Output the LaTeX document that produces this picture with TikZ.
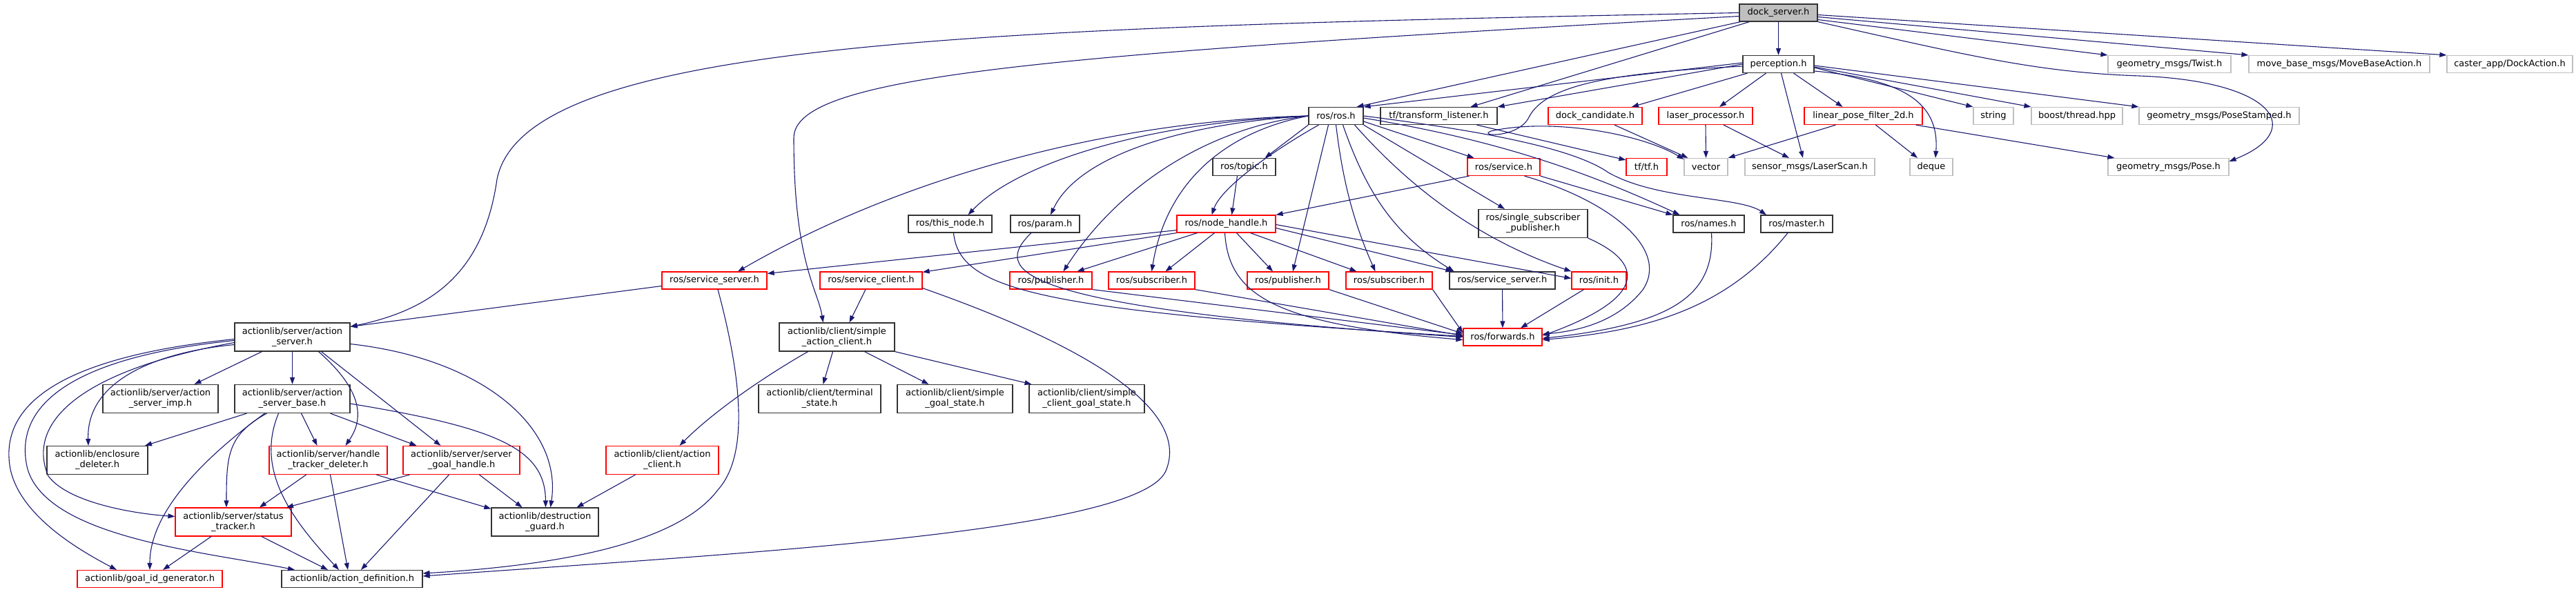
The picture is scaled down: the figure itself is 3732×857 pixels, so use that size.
\documentclass[tikz,border=0pt]{standalone}
\usepackage{fontspec}
\setmainfont{DejaVu Sans}
\usetikzlibrary{arrows.meta}
\definecolor{edgec}{HTML}{191970}
\definecolor{redc}{HTML}{FF0000}
\definecolor{grayc}{HTML}{BFBFBF}
\newcommand\nodefont{\fontsize{13}{15}\selectfont}
\begin{document}
\begin{tikzpicture}[x=1pt,y=-1pt,
 file/.style={draw=black!80, line width=1.2pt, fill=white, minimum height=25pt, inner sep=0pt, align=center, font=\nodefont, text=black},
 two/.style={minimum height=41pt},
 redf/.style={file, draw=redc},
 grayf/.style={file, draw=grayc},
 rootf/.style={file, fill=grayc},
 dep/.style={draw=edgec, line width=1.1pt, -{Triangle[length=10pt,width=7pt]}},
]
\useasboundingbox (0,0) rectangle (3732,857);
% row 0,1
\node[rootf, minimum width=113pt] (dock) at (2576.5,18.5) {dock\_server.h};
\node[file, minimum width=103pt] (perc) at (2576.5,93) {perception.h};
\node[grayf, minimum width=178pt] (twist) at (3143,93) {geometry\_msgs/Twist.h};
\node[grayf, minimum width=262pt] (mba) at (3389,93) {move\_base\_msgs/MoveBaseAction.h};
\node[grayf, minimum width=182pt] (caster) at (3636,93) {caster\_app/DockAction.h};
% row 2
\node[file, minimum width=79pt] (ros) at (1935.5,168) {ros/ros.h};
\node[file, minimum width=169pt] (tl) at (2084.5,168) {tf/transform\_listener.h};
\node[redf, minimum width=136pt] (dc) at (2311,168) {dock\_candidate.h};
\node[redf, minimum width=136pt] (lp) at (2471,168) {laser\_processor.h};
\node[redf, minimum width=171pt] (lpf) at (2699.5,168) {linear\_pose\_filter\_2d.h};
\node[grayf, minimum width=58pt] (str) at (2888,168) {string};
\node[grayf, minimum width=132pt] (boost) at (3009,168) {boost/thread.hpp};
\node[grayf, minimum width=232pt] (ps) at (3215,168) {geometry\_msgs/PoseStamped.h};
% row 3
\node[file, minimum width=91pt] (topic) at (1802.5,242) {ros/topic.h};
\node[redf, minimum width=105pt] (svc) at (2178.5,242) {ros/service.h};
\node[redf, minimum width=59pt] (tf) at (2385.5,242) {tf/tf.h};
\node[grayf, minimum width=63pt] (vec) at (2471.5,242) {vector};
\node[grayf, minimum width=188pt] (ls) at (2622,242) {sensor\_msgs/LaserScan.h};
\node[grayf, minimum width=62pt] (deq) at (2798,242) {deque};
\node[grayf, minimum width=175pt] (pose) at (3141.5,242) {geometry\_msgs/Pose.h};
% row 4
\node[file, minimum width=121pt] (thisn) at (1376.5,324.5) {ros/this\_node.h};
\node[file, minimum width=100pt] (param) at (1514,324.5) {ros/param.h};
\node[redf, minimum width=143pt] (nh) at (1776.5,324.5) {ros/node\_handle.h};
\node[file, two, minimum width=158pt] (ssp) at (2221,324) {ros/single\_subscriber\\\_publisher.h};
\node[file, minimum width=103pt] (names) at (2475.5,324.5) {ros/names.h};
\node[file, minimum width=104pt] (master) at (2603,324.5) {ros/master.h};
% row 5
\node[redf, minimum width=152pt] (ssr) at (1035,406.5) {ros/service\_server.h};
\node[redf, minimum width=148pt] (scl) at (1262,406.5) {ros/service\_client.h};
\node[redf, minimum width=119pt] (pub1) at (1522.5,406.5) {ros/publisher.h};
\node[redf, minimum width=125pt] (sub1) at (1668.5,406.5) {ros/subscriber.h};
\node[redf, minimum width=118pt] (pub2) at (1866,406.5) {ros/publisher.h};
\node[redf, minimum width=125pt] (sub2) at (2012.5,406.5) {ros/subscriber.h};
\node[file, minimum width=153pt] (ssb) at (2176.5,406.5) {ros/service\_server.h};
\node[redf, minimum width=79pt] (init) at (2316.5,406.5) {ros/init.h};
% row 6
\node[file, two, minimum width=167pt] (as) at (423.5,488.5) {actionlib/server/action\\\_server.h};
\node[file, two, minimum width=167pt] (sac) at (1212.5,488.5) {actionlib/client/simple\\\_action\_client.h};
\node[redf, minimum width=114pt] (fwd) at (2177,488.5) {ros/forwards.h};
% row 7
\node[file, two, minimum width=167pt] (imp) at (232.5,578) {actionlib/server/action\\\_server\_imp.h};
\node[file, two, minimum width=167pt] (base) at (423.5,578) {actionlib/server/action\\\_server\_base.h};
\node[file, two, minimum width=177pt] (term) at (1187.5,578) {actionlib/client/terminal\\\_state.h};
\node[file, two, minimum width=167pt] (sgs) at (1383.5,578) {actionlib/client/simple\\\_goal\_state.h};
\node[file, two, minimum width=167pt] (scgs) at (1574.5,578) {actionlib/client/simple\\\_client\_goal\_state.h};
% row 8
\node[file, two, minimum width=146pt] (encl) at (141,667) {actionlib/enclosure\\\_deleter.h};
\node[redf, two, minimum width=171pt] (htd) at (475.5,667) {actionlib/server/handle\\\_tracker\_deleter.h};
\node[redf, two, minimum width=169pt] (sgh) at (668.5,667) {actionlib/server/server\\\_goal\_handle.h};
\node[redf, two, minimum width=163pt] (acl) at (959.5,667) {actionlib/client/action\\\_client.h};
% row 9,10
\node[redf, two, minimum width=168pt] (st) at (338,756.5) {actionlib/server/status\\\_tracker.h};
\node[file, two, minimum width=155pt] (dg) at (789.5,756.5) {actionlib/destruction\\\_guard.h};
\node[redf, minimum width=210pt] (gid) at (217,839) {actionlib/goal\_id\_generator.h};
\node[file, minimum width=204pt] (ad) at (510,839) {actionlib/action\_definition.h};

% ---- dock_server.h
\draw[dep] (dock) -- (perc);
\draw[dep] ([xshift=-55pt]dock.south) -- ([xshift=30pt]ros.north);
\draw[dep] ([xshift=-42pt]dock.south) -- ([xshift=46pt]tl.north);
\draw[dep] (dock.west) .. controls (1400,40) and (760,60) .. (720,260) .. controls (700,400) and (620,450) .. ([yshift=-6pt]as.north east);
\draw[dep] ([yshift=-5pt]dock.west) .. controls (1500,80) and (1150,110) .. (1150,200) .. controls (1150,380) and (1185,420) .. ([xshift=-20pt]sac.north);
\draw[dep] ([yshift=-3pt]dock.east) -- (caster.north west);
\draw[dep] ([yshift=-6pt]dock.east) -- (mba.north west);
\draw[dep] ([yshift=-10pt]dock.east) -- (twist.north west);
\draw[dep] (dock.south east) .. controls (2850,80) and (2950,105) .. (3100,110) .. controls (3300,118) and (3340,190) .. ([yshift=-5pt]pose.north east);
% ---- perception.h
\draw[dep] ([yshift=2pt]perc.west) -- (ros.north east);
\draw[dep] (perc.west) -- (tl.north east);
\draw[dep] ([xshift=-45pt]perc.south) -- ([xshift=53pt]dc.north);
\draw[dep] ([xshift=-18pt]perc.south) -- ([xshift=20pt]lp.north);
\draw[dep] ([xshift=4pt]perc.south) -- ([xshift=-10pt]ls.north);
\draw[dep] ([xshift=22pt]perc.south) -- ([xshift=-30pt]lpf.north);
\draw[dep] ([yshift=-10pt]perc.east) .. controls (2760,115) and (2810,150) .. ([xshift=6pt]deq.north);
\draw[dep] ([yshift=-5pt]perc.east) -- (str.north west);
\draw[dep] ([yshift=-4pt]perc.east) -- (boost.north west);
\draw[dep] ([yshift=-2pt]perc.east) -- (ps.north west);
\draw[dep] ([yshift=-3pt]perc.west) .. controls (2350,105) and (2240,120) .. (2215,170) .. controls (2200,200) and (2140,198) .. (2160,190) .. controls (2250,170) and (2380,195) .. ([yshift=-2pt]vec.north west);
% ---- second level
\draw[dep] ([xshift=55pt]tl.south) -- ([yshift=-3pt]tf.north west);
\draw[dep] ([xshift=28pt]dc.south) -- ([xshift=6pt]vec.north west);
\draw[dep] (lp.south) -- (vec.north);
\draw[dep] ([xshift=26pt]lp.south) -- ([xshift=-30pt]ls.north);
\draw[dep] ([xshift=-40pt]lpf.south) -- (vec.north east);
\draw[dep] ([xshift=18pt]lpf.south) -- ([xshift=-20pt]deq.north);
\draw[dep] ([xshift=-10pt]lpf.south east) -- ([xshift=10pt]pose.north west);
% ---- ros/ros.h
\draw[dep] (ros.south west) -- ([xshift=30pt]topic.north);
\draw[dep] ([xshift=-10pt]topic.south) -- ([xshift=8pt]nh.north);
\draw[dep] ([xshift=-25pt]ros.south) .. controls (1850,215) and (1770,270) .. ([xshift=-21pt]nh.north);
\draw[dep] (ros.west) .. controls (1600,175) and (1300,260) .. ([xshift=34pt]ssr.north);
\draw[dep] (ros.west) .. controls (1650,178) and (1470,240) .. ([xshift=26pt]thisn.north);
\draw[dep] (ros.west) .. controls (1700,180) and (1560,230) .. ([xshift=8pt]param.north);
\draw[dep] (ros.west) .. controls (1750,185) and (1620,270) .. ([xshift=18pt]pub1.north);
\draw[dep] (ros.west) .. controls (1780,190) and (1690,260) .. (sub1.north);
\draw[dep] ([xshift=-11pt]ros.south) -- ([xshift=7pt]pub2.north);
\draw[dep] (ros.south) .. controls (1945,260) and (1960,320) .. ([xshift=-20pt]sub2.north);
\draw[dep] ([xshift=10pt]ros.south) .. controls (1980,280) and (2020,340) .. ([xshift=-70pt]ssb.north);
\draw[dep] ([xshift=27pt]ros.south) .. controls (2050,280) and (2150,350) .. (init.north west);
\draw[dep] (ros.south east) -- ([xshift=-41pt]ssp.north);
\draw[dep] ([yshift=-8pt]ros.east) -- ([xshift=-43pt]svc.north);
\draw[dep] ([yshift=-3pt]ros.east) .. controls (2150,200) and (2280,240) .. ([xshift=-42pt]names.north);
\draw[dep] (ros.east) .. controls (2150,190) and (2280,215) .. (2330,250) .. controls (2400,290) and (2520,285) .. ([xshift=-44pt]master.north);
% ---- ros/service.h etc.
\draw[dep] ([xshift=-50pt]svc.south) -- (nh.north east);
\draw[dep] (svc.south east) -- ([xshift=-52pt]names.north);
\draw[dep] ([xshift=30pt]svc.south) .. controls (2330,290) and (2420,360) .. (2380,420) .. controls (2340,470) and (2280,480) .. ([yshift=4pt]fwd.east);
\draw[dep] (ssp.south east) .. controls (2380,380) and (2390,430) .. ([yshift=2pt]fwd.east);
\draw[dep] ([xshift=4pt]names.south) .. controls (2485,430) and (2420,470) .. ([yshift=-2pt]fwd.east);
\draw[dep] ([xshift=-13pt]master.south) .. controls (2500,450) and (2380,480) .. ([yshift=-4pt]fwd.east);
\draw[dep] (ssb) -- (fwd);
\draw[dep] ([xshift=-22pt]init.south) -- ([xshift=26pt]fwd.north);
\draw[dep] ([xshift=-2pt]nh.south) .. controls (1780,430) and (1850,470) .. ([yshift=-4pt]fwd.west);
\draw[dep] (pub1.south east) -- ([yshift=3pt]fwd.west);
\draw[dep] (sub1.south east) -- ([yshift=2pt]fwd.west);
\draw[dep] (pub2.south east) -- ([yshift=5pt]fwd.west);
\draw[dep] (sub2.south east) -- ([yshift=6pt]fwd.west);
\draw[dep] ([xshift=5pt]thisn.south) .. controls (1390,420) and (1500,450) .. ([yshift=1pt]fwd.west);
\draw[dep] ([xshift=-20pt]param.south) .. controls (1440,390) and (1450,445) .. (fwd.west);
% ---- ros/node_handle.h
\draw[dep] ([yshift=4pt]nh.south west) -- ([yshift=-3pt]ssr.north east);
\draw[dep] (nh.south west) -- ([yshift=-1pt]scl.north east);
\draw[dep] ([xshift=-42pt]nh.south) -- ([xshift=38pt]pub1.north);
\draw[dep] ([xshift=-17pt]nh.south) -- ([xshift=20pt]sub1.north);
\draw[dep] ([xshift=15pt]nh.south) -- ([xshift=-22pt]pub2.north);
\draw[dep] ([xshift=35pt]nh.south) -- ([xshift=-47pt]sub2.north);
\draw[dep] ([yshift=-6pt]nh.east) -- ([xshift=5pt]ssb.north west);
\draw[dep] ([yshift=-1pt]nh.east) -- ([yshift=3pt]init.west);
% ---- service client / server
\draw[dep] ([xshift=-8pt]scl.south) -- ([xshift=18pt]sac.north);
\draw[dep] ([yshift=2pt]scl.south east) .. controls (1600,510) and (1720,600) .. (1690,680) .. controls (1660,770) and (1100,800) .. ([yshift=4pt]ad.east);
\draw[dep] ([yshift=-8pt]ssr.west) -- ([yshift=-6pt]as.north east);
\draw[dep] ([xshift=5pt]ssr.south) .. controls (1075,550) and (1085,660) .. (1040,710) .. controls (980,790) and (800,820) .. ([yshift=8pt]ad.east);
% ---- simple_action_client
\draw[dep] ([xshift=-42pt]sac.south) .. controls (1100,550) and (1030,600) .. ([xshift=25pt]acl.north);
\draw[dep] ([xshift=-6pt]sac.south) -- ([xshift=5pt]term.north);
\draw[dep] ([xshift=40pt]sac.south) -- ([xshift=-38pt]sgs.north);
\draw[dep] (sac.south east) -- ([xshift=-80pt]scgs.north);
\draw[dep] ([xshift=-39pt]acl.south) -- ([xshift=46pt]dg.north);
% ---- action_server
\draw[dep] ([xshift=-44pt]as.south) -- ([xshift=49pt]imp.north);
\draw[dep] (as) -- (base);
\draw[dep] ([yshift=-11pt]as.west) .. controls (230,510) and (125,550) .. ([xshift=-13pt]encl.north);
\draw[dep] ([xshift=38pt]as.south) .. controls (530,570) and (525,610) .. ([xshift=25pt]htd.north);
\draw[dep] ([xshift=42pt]as.south) -- ([xshift=-30pt]sgh.north);
\draw[dep] ([yshift=-10pt]as.east) .. controls (700,520) and (815,620) .. ([xshift=8pt]dg.north);
\draw[dep] ([yshift=-3pt]as.west) .. controls (60,520) and (0,600) .. (15,680) .. controls (30,750) and (120,800) .. ([xshift=-48pt]gid.north);
\draw[dep] ([yshift=-5pt]as.west) .. controls (80,520) and (20,600) .. (40,680) .. controls (70,780) and (300,800) .. ([xshift=-83pt]ad.north);
\draw[dep] ([yshift=-8pt]as.west) .. controls (100,540) and (40,620) .. (70,690) .. controls (100,730) and (200,745) .. ([yshift=8pt]st.west);
% ---- action_server_base
\draw[dep] ([xshift=-66pt]base.south) -- ([xshift=69pt]encl.north);
\draw[dep] ([xshift=13pt]base.south) -- ([xshift=-16pt]htd.north);
\draw[dep] ([xshift=55pt]base.south) -- ([xshift=-65pt]sgh.north);
\draw[dep] ([yshift=-7pt]base.east) .. controls (720,620) and (790,650) .. ([xshift=1pt]dg.north);
\draw[dep] ([xshift=-37pt]base.south) .. controls (330,630) and (328,660) .. ([xshift=-10pt]st.north);
\draw[dep] ([xshift=-40pt]base.south) .. controls (300,660) and (217,740) .. (gid.north);
\draw[dep] ([xshift=-20pt]base.south) .. controls (370,680) and (420,750) .. ([xshift=-19pt]ad.north);
% ---- handle_tracker_deleter, server_goal_handle, status_tracker
\draw[dep] ([xshift=-32pt]htd.south) -- ([xshift=38pt]st.north);
\draw[dep] ([xshift=3pt]htd.south) -- ([xshift=-6pt]ad.north);
\draw[dep] ([xshift=70pt]htd.south) -- ([yshift=-2pt]dg.north west);
\draw[dep] ([xshift=-75pt]sgh.south) -- ([xshift=77pt]st.north);
\draw[dep] ([xshift=-18pt]sgh.south) -- ([xshift=13pt]ad.north);
\draw[dep] ([xshift=26pt]sgh.south) -- ([xshift=-33pt]dg.north);
\draw[dep] ([xshift=-32pt]st.south) -- ([xshift=19pt]gid.north);
\draw[dep] ([xshift=41pt]st.south) -- ([xshift=-35pt]ad.north);
\end{tikzpicture}
\end{document}
